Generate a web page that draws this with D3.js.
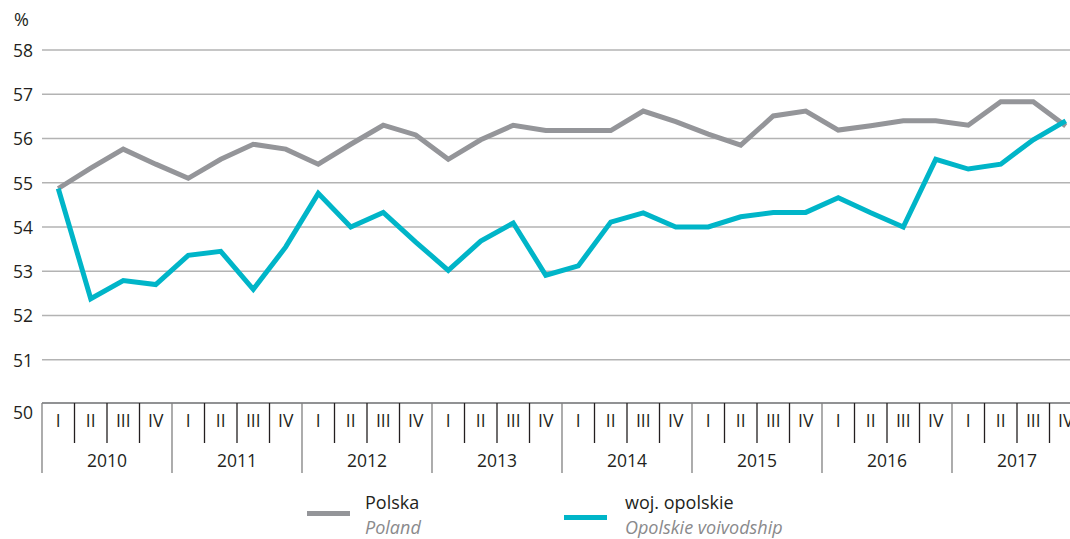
<!DOCTYPE html>
<html>
<head>
<meta charset="utf-8">
<script src="https://cdn.jsdelivr.net/npm/d3@7"></script>
<style>
  body { margin: 0; background: #fff; }
  text { font-family: "Open Sans", "Noto Sans", sans-serif; fill: #231f20; }
</style>
</head>
<body>
<div id="chart"></div>
<script>
// Data (share in %, quarterly 2010-2017)
const years = [2010, 2011, 2012, 2013, 2014, 2015, 2016, 2017];
const quarters = ["I", "II", "III", "IV"];
const polska = [
    54.87, 55.33, 55.76, 55.42, 55.1, 55.53, 55.87, 55.76,
    55.42, 55.87, 56.3, 56.08, 55.53, 55.97, 56.3, 56.18,
    56.18, 56.18, 56.62, 56.38, 56.1, 55.85, 56.51, 56.62,
    56.19, 56.29, 56.4, 56.4, 56.3, 56.83, 56.83, 56.28
];
const opolskie = [
    54.87, 52.38, 52.79, 52.7, 53.36, 53.45, 52.59, 53.55,
    54.76, 54.0, 54.33, 53.66, 53.02, 53.68, 54.09, 52.91,
    53.12, 54.11, 54.32, 54.0, 54.0, 54.23, 54.33, 54.33,
    54.66, 54.32, 54.0, 55.53, 55.31, 55.42, 55.97, 56.4
];
const yTicks = [50, 51, 52, 53, 54, 55, 56, 57, 58];
const seriesNames = [
    { pl: "Polska", en: "Poland" },
    { pl: "woj. opolskie", en: "Opolskie voivodship" }
];

const colors = ["#949599", "#00b5c8"];
const width = 1070, height = 539;
const plot = { left: 42, right: 1082, top: 50, bottom: 404 };

const svg = d3.select("#chart")
    .append("svg")
    .attr("width", width)
    .attr("height", height);

// Quarter keys like "2010-I"
const keys = [];
years.forEach(yr => quarters.forEach(q => keys.push(yr + "-" + q)));

const x = d3.scaleBand()
    .domain(keys)
    .range([plot.left, plot.right])
    .padding(0);

const y = d3.scaleLinear()
    .domain([50, 58])
    .range([plot.bottom, plot.top]);

// Gridlines
svg.append("g")
    .selectAll("line")
    .data(yTicks.filter(d => d > 50))
    .enter()
    .append("line")
    .attr("x1", plot.left)
    .attr("x2", width)
    .attr("y1", d => y(d))
    .attr("y2", d => y(d))
    .style("stroke", "#b3b3b3")
    .style("stroke-width", "1.4px");

// Y-axis labels
const yAxis = svg.append("g")
    .attr("transform", `translate(${plot.left},0)`)
    .call(d3.axisLeft(y).tickValues(yTicks).tickSize(0).tickPadding(9).tickFormat(d3.format("d")));
yAxis.select(".domain").remove();
yAxis.selectAll("text")
    .style("font-size", "17.5px")
    .style("font-family", "'Open Sans', sans-serif")
    .attr("fill", "#231f20")
    .attr("dy", d => d === 50 ? "0.8em" : "0.36em");

svg.append("text")
    .attr("x", 14)
    .attr("y", 26)
    .style("font-size", "18px")
    .text("%");

// X axis frame
svg.append("line")
    .attr("x1", plot.left).attr("x2", width)
    .attr("y1", plot.bottom - 1).attr("y2", plot.bottom - 1)
    .style("stroke", "#6d6e71")
    .style("stroke-width", "1.5px");

// Quarter separators (longer at year boundaries)
svg.append("g")
    .selectAll("line")
    .data(keys.concat(["end"]))
    .enter()
    .append("line")
    .attr("x1", (d, i) => i < keys.length ? x(d) : plot.right)
    .attr("x2", (d, i) => i < keys.length ? x(d) : plot.right)
    .attr("y1", plot.bottom - 1)
    .attr("y2", (d, i) => i % 4 === 0 ? 473 : 443)
    .style("stroke", (d, i) => i % 4 === 0 ? "#808080" : "#231f20")
    .style("stroke-width", "1.3px");

// Quarter labels
svg.append("g")
    .selectAll("text")
    .data(keys)
    .enter()
    .append("text")
    .attr("x", d => x(d) + x.bandwidth() / 2)
    .attr("y", 427)
    .style("text-anchor", "middle")
    .style("font-size", "17.5px")
    .text(d => d.split("-")[1]);

// Year labels
svg.append("g")
    .selectAll("text")
    .data(years)
    .enter()
    .append("text")
    .attr("x", d => x(d + "-I") + x.bandwidth() * 2)
    .attr("y", 467)
    .style("text-anchor", "middle")
    .style("font-size", "17.5px")
    .text(d => d);

// Lines
const line = d3.line()
    .x((d, i) => x(keys[i]) + x.bandwidth() / 2)
    .y(d => y(d));

[polska, opolskie].forEach((series, k) => {
    svg.append("path")
        .datum(series)
        .attr("d", line)
        .attr("fill", "none")
        .style("stroke", colors[k])
        .style("stroke-width", "5px")
        .style("stroke-linejoin", "miter");
});

// Legend
const legendX = [307, 564];
const legendLineY = [513.5, 517.5];
seriesNames.forEach((s, k) => {
    const g = svg.append("g");
    g.append("line")
        .attr("x1", legendX[k]).attr("x2", legendX[k] + 43)
        .attr("y1", legendLineY[k]).attr("y2", legendLineY[k])
        .style("stroke", colors[k])
        .style("stroke-width", "5px");
    g.append("text")
        .attr("x", legendX[k] + 58 + (k === 1 ? 3 : 0))
        .attr("y", 509)
        .style("font-size", "18px")
        .text(s.pl);
    g.append("text")
        .attr("x", legendX[k] + 58 + (k === 1 ? 3 : 0))
        .attr("y", 534)
        .style("font-size", "18px")
        .style("font-style", "italic")
        .style("fill", "#8a8a8c")
        .text(s.en);
});
</script>
</body>
</html>
